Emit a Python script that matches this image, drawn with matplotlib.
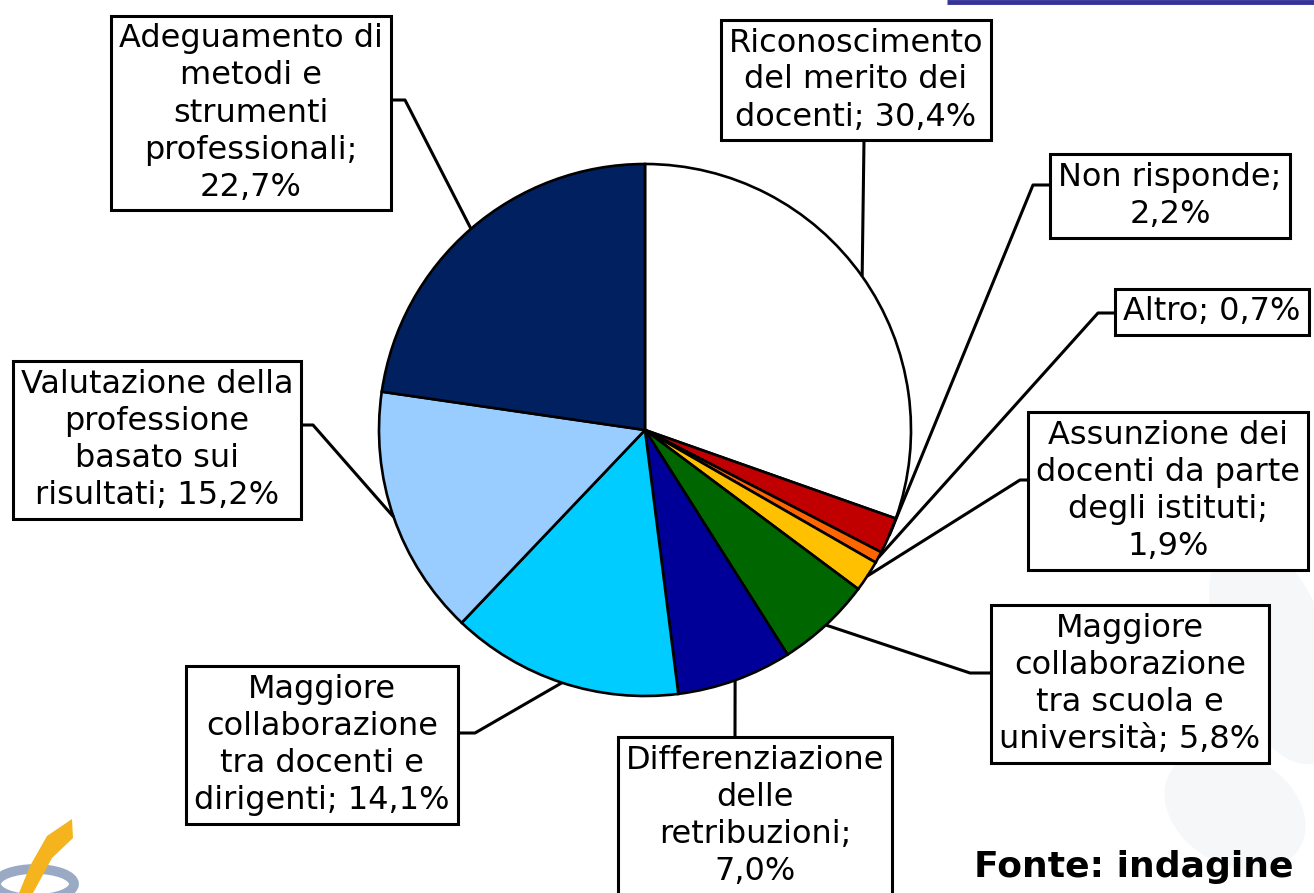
import numpy as np
import matplotlib.pyplot as plt
from matplotlib.patches import Polygon, Ellipse

W, H = 1314, 893

# quote per voce (in senso orario da ore 12)
valori = [30.4, 2.2, 0.7, 1.9, 5.8, 7.0, 14.1, 15.2, 22.7]
etichette = [
    'Riconoscimento\ndel merito dei\ndocenti; {}',
    'Non risponde;\n{}',
    'Altro; {}',
    'Assunzione dei\ndocenti da parte\ndegli istituti;\n{}',
    'Maggiore\ncollaborazione\ntra scuola e\nuniversità; {}',
    'Differenziazione\ndelle\nretribuzioni;\n{}',
    'Maggiore\ncollaborazione\ntra docenti e\ndirigenti; {}',
    'Valutazione della\nprofessione\nbasato sui\nrisultati; {}',
    'Adeguamento di\nmetodi e\nstrumenti\nprofessionali;\n{}',
]
colori = ['#FFFFFF', '#C00000', '#FF6600', '#FFC000', '#006600',
          '#000099', '#00CCFF', '#99CCFF', '#002060']

# posizione dei riquadri (pixel, y dall'alto) e punti della linea di richiamo
box_xy = [(856, 80), (1170, 196), (1212, 312), (1168, 491), (1130, 684),
          (755, 816), (322, 745), (157, 440), (251, 113)]
attacco = [[(864, 80), (864, 140)],
           [(1170, 185), (1033, 185)],
           [(1212, 313), (1098, 313)],
           [(1168, 480), (1020, 480)],
           [(1130, 673), (970, 673)],
           [(735, 818), (735, 733)],
           [(322, 733), (475, 733)],
           [(157, 425), (313, 425)],
           [(251, 100), (405, 100)]]


def Y(y):
    return H - y


fig = plt.figure(figsize=(W / 100, H / 100), dpi=100)
ax = fig.add_axes([0, 0, 1, 1])

# sfondo: figura grigia molto tenue sulla destra
for (ex, ey, ew, eh, ang) in [(1275, 650, 110, 240, 20), (1235, 810, 150, 110, -30)]:
    ax.add_patch(Ellipse((ex, Y(ey)), ew, eh, angle=ang, fc='#E3E6EE',
                         ec='none', alpha=0.3, zorder=0))

cx, cy, r = 645, Y(430), 266
wedges, _ = ax.pie(valori, colors=colori, startangle=90, counterclock=False,
                   center=(cx, cy), radius=r,
                   wedgeprops=dict(edgecolor='black', linewidth=1.9))

for w, testo, (bx, by), pts, v in zip(wedges, etichette, box_xy, attacco, valori):
    a = np.deg2rad((w.theta1 + w.theta2) / 2)
    px, py = cx + r * np.cos(a), cy + r * np.sin(a)
    xs = [p[0] for p in pts] + [px]
    ys = [Y(p[1]) for p in pts] + [py]
    ax.plot(xs, ys, color='black', lw=2.2, zorder=3, solid_capstyle='butt')
    lab = testo.format(('%.1f%%' % v).replace('.', ','))
    ax.text(bx, Y(by), lab, ha='center', va='center', fontsize=23,
            linespacing=1.25, zorder=5,
            bbox=dict(boxstyle='square,pad=0.25', fc='white', ec='black', lw=2.2))

# fascia blu in alto e logo in basso a sinistra
ax.plot([947, W], [Y(1.5), Y(1.5)], color='#333399', lw=3.5, solid_capstyle='butt')
ax.add_patch(Ellipse((35, Y(884)), 78, 30, fill=False, ec='#9AAAC4', lw=7))
ax.add_patch(Polygon([(72, Y(819)), (73, Y(838)), (52, Y(858)), (33, Y(893)),
                      (19, Y(893)), (30, Y(866)), (47, Y(836))],
                     closed=True, fc='#F5B41E', ec='none'))

ax.text(974, Y(877), 'Fonte: indagine', fontsize=26, fontweight='bold',
        ha='left', va='baseline')

ax.set_xlim(0, W)
ax.set_ylim(0, H)
ax.set_aspect('equal')
ax.axis('off')
fig.savefig('out.png', dpi=100)
